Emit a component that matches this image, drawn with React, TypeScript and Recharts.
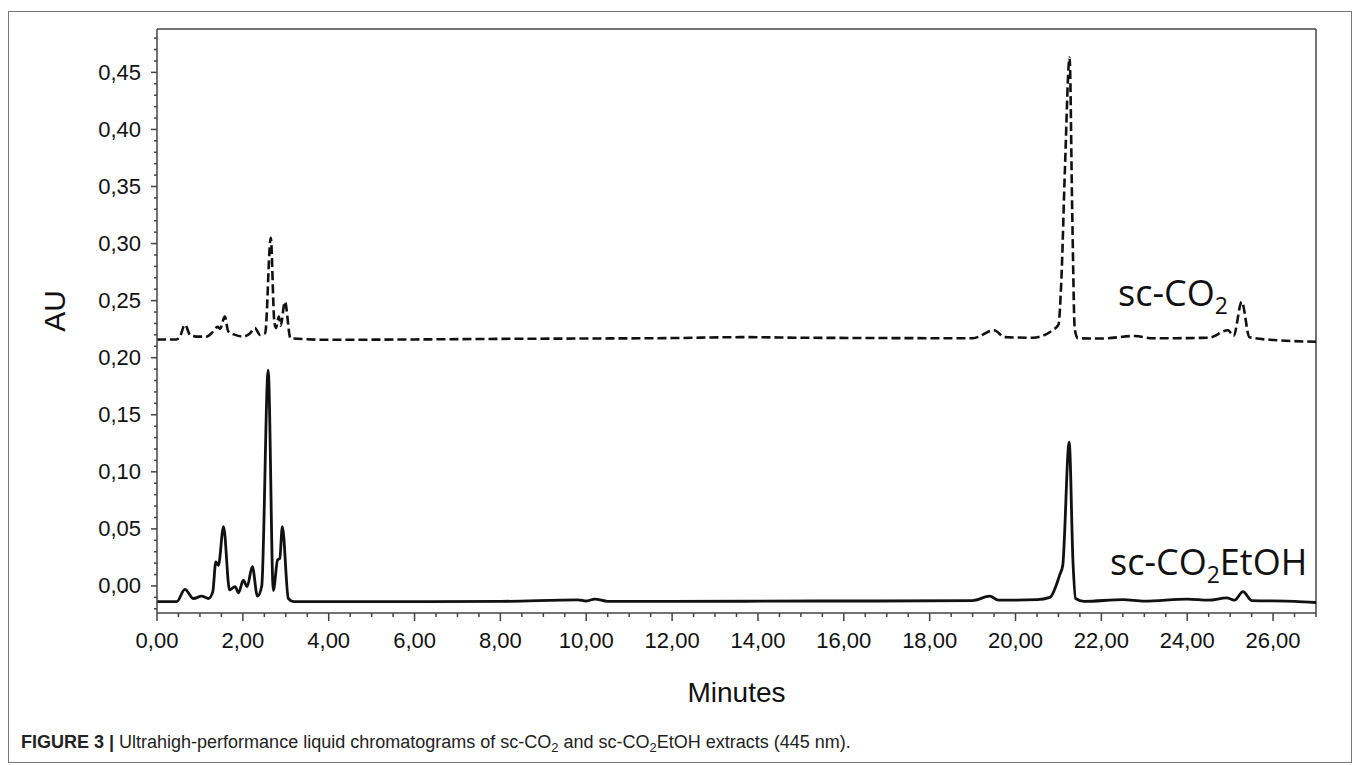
import React from 'react';
import { LineChart, Line, XAxis, YAxis, ReferenceLine } from 'recharts';

// sc-CO2 chromatogram (dashed)
const co2Times = [0, 0.45, 0.54, 0.65, 0.77, 0.92, 1.16, 1.27, 1.41, 1.47, 1.58, 1.66, 1.82, 2.01, 2.17, 2.28, 2.4, 2.52, 2.65, 2.73, 2.77, 2.84, 2.88, 2.98, 3.11, 4.0, 6.0, 8.0, 10.0, 12.0, 13.7, 15.0, 17.0, 19.0, 19.5, 19.75, 20.4, 20.88, 21.0, 21.07, 21.15, 21.26, 21.32, 21.38, 21.45, 22.0, 22.78, 23.2, 24.5, 24.95, 25.08, 25.27, 25.45, 26.0, 27.0];
const co2Values = [0.216, 0.216, 0.219, 0.229, 0.22, 0.2185, 0.2185, 0.2215, 0.227, 0.2255, 0.236, 0.223, 0.22, 0.2185, 0.2215, 0.226, 0.22, 0.2215, 0.305, 0.233, 0.226, 0.236, 0.228, 0.249, 0.217, 0.2157, 0.216, 0.2165, 0.2168, 0.2172, 0.218, 0.2175, 0.2172, 0.217, 0.224, 0.218, 0.2175, 0.2245, 0.229, 0.27, 0.364, 0.463, 0.33, 0.225, 0.217, 0.2168, 0.219, 0.217, 0.2175, 0.224, 0.219, 0.249, 0.218, 0.2155, 0.214];

// sc-CO2EtOH chromatogram (solid)
const etohTimes = [0, 0.46, 0.65, 0.85, 1.04, 1.2, 1.3, 1.37, 1.43, 1.55, 1.69, 1.82, 1.9, 2.01, 2.1, 2.22, 2.34, 2.44, 2.59, 2.71, 2.81, 2.86, 2.92, 3.06, 3.18, 5.0, 8.0, 9.8, 10.0, 10.2, 10.5, 12.0, 15.4, 16.7, 19.0, 19.4, 19.6, 20.5, 20.8, 21.03, 21.1, 21.25, 21.34, 21.4, 21.6, 22.5, 23.0, 24.0, 24.5, 24.92, 25.1, 25.3, 25.5, 26.5, 27.0];
const etohValues = [-0.0137, -0.0137, -0.003, -0.011, -0.009, -0.011, -0.005, 0.021, 0.018, 0.052, -0.0035, -0.0006, -0.006, 0.005, -0.0006, 0.017, -0.009, 0.0, 0.189, -0.004, 0.023, 0.024, 0.052, -0.011, -0.0137, -0.0137, -0.0135, -0.0122, -0.0132, -0.0115, -0.0135, -0.0136, -0.0132, -0.0132, -0.0128, -0.009, -0.0125, -0.012, -0.01, 0.0097, 0.018, 0.126, 0.02, -0.011, -0.0135, -0.012, -0.0133, -0.0115, -0.0125, -0.0105, -0.0125, -0.005, -0.0128, -0.0135, -0.0145];

const xTicks = [0, 0.5, 1, 1.5, 2, 2.5, 3, 3.5, 4, 4.5, 5, 5.5, 6, 6.5, 7, 7.5, 8, 8.5, 9, 9.5, 10, 10.5, 11, 11.5, 12, 12.5, 13, 13.5, 14, 14.5, 15, 15.5, 16, 16.5, 17, 17.5, 18, 18.5, 19, 19.5, 20, 20.5, 21, 21.5, 22, 22.5, 23, 23.5, 24, 24.5, 25, 25.5, 26, 26.5, 27];
const xLabelTicks = [0, 2, 4, 6, 8, 10, 12, 14, 16, 18, 20, 22, 24, 26];
const yTicks = [-0.02, -0.01, 0, 0.01, 0.02, 0.03, 0.04, 0.05, 0.06, 0.07, 0.08, 0.09, 0.1, 0.11, 0.12, 0.13, 0.14, 0.15, 0.16, 0.17, 0.18, 0.19, 0.2, 0.21, 0.22, 0.23, 0.24, 0.25, 0.26, 0.27, 0.28, 0.29, 0.3, 0.31, 0.32, 0.33, 0.34, 0.35, 0.36, 0.37, 0.38, 0.39, 0.4, 0.41, 0.42, 0.43, 0.44, 0.45, 0.46, 0.47, 0.48];
const yLabelTicks = [0, 0.05, 0.1, 0.15, 0.2, 0.25, 0.3, 0.35, 0.4, 0.45];

const X_MAX = 27;
const Y_MIN = -0.0237;
const Y_MAX = 0.488;

const co2Data = co2Times.map((t, i) => ({ t, v: co2Values[i] }));
const etohData = etohTimes.map((t, i) => ({ t, v: etohValues[i] }));

const fmt = (v: number) => v.toFixed(2).replace('.', ',');
const isIn = (arr: number[], v: number) => arr.some((m) => Math.abs(m - v) < 1e-9);

const AXIS = '#444';
const TICK_FONT = '"Liberation Sans", Arial, sans-serif';

const YTick = (props: any) => {
  const { x, y, payload } = props;
  const v = payload.value as number;
  const major = isIn(yLabelTicks, v);
  return (
    <g>
      <line x1={x - (major ? 6 : 3)} x2={x} y1={y} y2={y} stroke={AXIS} strokeWidth={1.5} />
      {major && (
        <text x={x - 16} y={y} textAnchor="end" dominantBaseline="central" fontSize={22} fontFamily={TICK_FONT} fill="#111">
          {fmt(v)}
        </text>
      )}
    </g>
  );
};

const XTick = (props: any) => {
  const { x, y, payload } = props;
  const v = payload.value as number;
  const major = isIn(xLabelTicks, v);
  return (
    <g>
      <line x1={x} x2={x} y1={y} y2={y + (major ? 8 : 4)} stroke={AXIS} strokeWidth={1.5} />
      {major && (
        <text x={x} y={y + 27} textAnchor="middle" dominantBaseline="central" fontSize={22} fontFamily={TICK_FONT} fill="#111">
          {fmt(v)}
        </text>
      )}
    </g>
  );
};

const ANNOT_FONT = '"Open Sans", "Noto Sans", sans-serif';

export default function App() {
  return (
    <div style={{ position: 'absolute', left: 0, top: 0, width: 1360, height: 765, background: '#fff', overflow: 'hidden' }}>
      <div style={{ position: 'absolute', left: 8, top: 11, width: 1344, height: 752, border: '1.5px solid #777', boxSizing: 'border-box' }} />
      <div style={{ position: 'absolute', left: 0, top: 0 }}>
        <LineChart width={1360} height={765} margin={{ top: 29, right: 44, left: 57, bottom: 122 }}>
          <XAxis
            dataKey="t"
            type="number"
            domain={[0, X_MAX]}
            allowDataOverflow
            ticks={xTicks}
            interval={0}
            tick={(p: any) => <XTick {...p} />}
            tickLine={false}
            tickSize={0}
            tickMargin={0}
            height={30}
            axisLine={{ stroke: AXIS, strokeWidth: 1.5 }}
          />
          <YAxis
            type="number"
            domain={[Y_MIN, Y_MAX]}
            allowDataOverflow
            ticks={yTicks}
            interval={0}
            tick={(p: any) => <YTick {...p} />}
            tickLine={false}
            tickSize={0}
            tickMargin={0}
            width={100}
            axisLine={{ stroke: AXIS, strokeWidth: 1.5 }}
          />
          <ReferenceLine y={Y_MAX} stroke={AXIS} strokeWidth={1.5} />
          <ReferenceLine x={X_MAX} stroke={AXIS} strokeWidth={1.5} />
          <Line
            data={co2Data}
            dataKey="v"
            type="monotone"
            stroke="#111"
            strokeWidth={2.6}
            strokeDasharray="9 4"
            dot={false}
            activeDot={false}
            isAnimationActive={false}
          />
          <Line
            data={etohData}
            dataKey="v"
            type="monotone"
            stroke="#111"
            strokeWidth={2.8}
            dot={false}
            activeDot={false}
            isAnimationActive={false}
          />
        </LineChart>
      </div>
      <svg width={1360} height={765} style={{ position: 'absolute', left: 0, top: 0, pointerEvents: 'none' }}>
        <text transform="translate(54,311) rotate(-90)" textAnchor="middle" dominantBaseline="central" fontSize={30} fontFamily={TICK_FONT} fill="#111">
          AU
        </text>
        <text x={736.5} y={692} textAnchor="middle" dominantBaseline="central" fontSize={28} fontFamily={TICK_FONT} fill="#111">
          Minutes
        </text>
        <text x={1118} y={306} fontSize={36} fontFamily={ANNOT_FONT} fill="#111">
          sc-CO<tspan fontSize={23} dy={8}>2</tspan>
        </text>
        <text x={1110} y={575} fontSize={36} fontFamily={ANNOT_FONT} fill="#111">
          sc-CO<tspan fontSize={23} dy={8}>2</tspan>
          <tspan dy={-8}>EtOH</tspan>
        </text>
      </svg>
      <div style={{ position: 'absolute', left: 21, top: 730, fontFamily: TICK_FONT, fontSize: 18, color: '#222', whiteSpace: 'nowrap', lineHeight: '24px' }}>
        <b>FIGURE 3 |</b> Ultrahigh-performance liquid chromatograms of sc-CO
        <span style={{ fontSize: '0.72em', verticalAlign: '-0.3em', lineHeight: 0 }}>2</span> and sc-CO
        <span style={{ fontSize: '0.72em', verticalAlign: '-0.3em', lineHeight: 0 }}>2</span>EtOH extracts (445 nm).
      </div>
    </div>
  );
}
